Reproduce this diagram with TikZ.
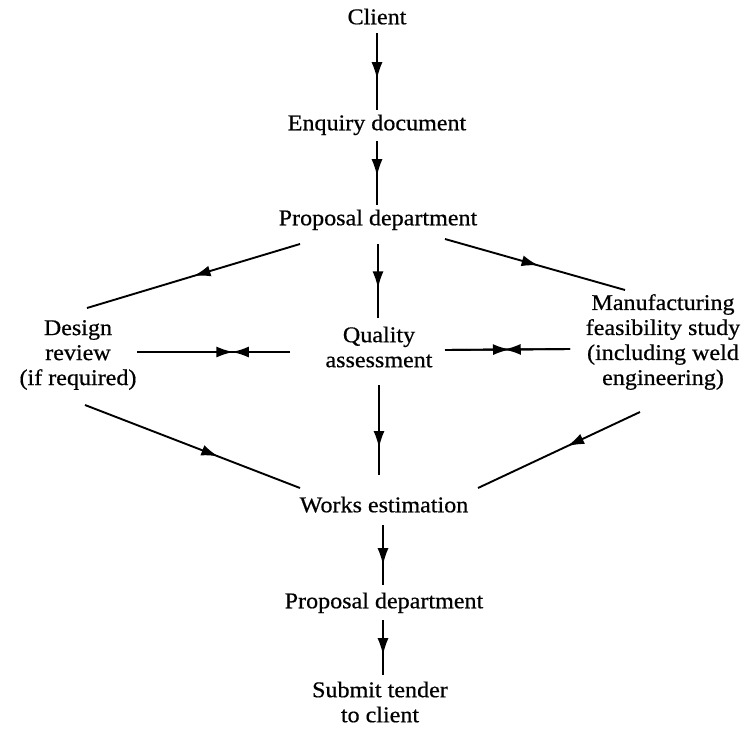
\documentclass[tikz,border=0pt]{standalone}
\usepackage{fontspec}
\setmainfont[FakeStretch=1.07,FakeBold=0.6]{Liberation Serif}
\usetikzlibrary{arrows.meta,decorations.markings}
\tikzset{
  lbl/.style={inner sep=0pt, align=center, font=\fontsize{22.5}{25}\selectfont},
  one/.style={lbl, text height=15pt, text depth=4.5pt},
  flow/.style={line width=1.9pt, postaction={decorate},
    decoration={markings, mark=at position #1 with {\arrow{Latex[length=17pt,width=11pt]}}}},
}
\begin{document}
\begin{tikzpicture}[x=1pt,y=-1pt]
\useasboundingbox (0,0) rectangle (744,731);
\node[one] (client) at (377,19) {Client};
\node[one] (enq) at (377,125) {Enquiry document};
\node[one] (pd1) at (378,220) {Proposal department};
\node[lbl] (dr) at (78,355) {Design\\review\\(if required)};
\node[lbl] (qa) at (379,347) {Quality\\assessment};
\node[lbl] (mfs) at (663,342) {Manufacturing\\feasibility study\\(including weld\\engineering)};
\node[one] (we) at (384,507) {Works estimation};
\node[one] (pd2) at (384,603) {Proposal department};
\node[lbl] (sub) at (380,702) {Submit tender\\to client};

\draw[flow=0.6] ([shift={(0,14)}]client.center) -- ([shift={(0,-15)}]enq.center);
\draw[flow=0.55] ([shift={(0,16)}]enq.center) -- ([shift={(-1,-15)}]pd1.center);
\draw[flow=0.5] ([shift={(-78,24)}]pd1.center) -- ([shift={(9,-47)}]dr.center);
\draw[flow=0.6] ([shift={(0,24)}]pd1.center) -- ([shift={(-1,-29)}]qa.center);
\draw[flow=0.52] ([shift={(67,19)}]pd1.center) -- ([shift={(-38,-52)}]mfs.center);
\draw[flow=0.63] ([shift={(59,-3)}]dr.center) -- ([shift={(-89,5)}]qa.center);
\draw[flow=0.38] ([shift={(-89,5)}]qa.center) -- ([shift={(59,-3)}]dr.center);
\draw[flow=0.52] ([shift={(66,3)}]qa.center) -- ([shift={(-93,7)}]mfs.center);
\draw[flow=0.53] ([shift={(-93,7)}]mfs.center) -- ([shift={(66,3)}]qa.center);
\draw[flow=0.62] ([shift={(7,50)}]dr.center) -- ([shift={(-84,-19)}]we.center);
\draw[flow=0.7] ([shift={(0,38)}]qa.center) -- ([shift={(-5,-32)}]we.center);
\draw[flow=0.45] ([shift={(-23,70)}]mfs.center) -- ([shift={(94,-19)}]we.center);
\draw[flow=0.67] ([shift={(-1,18)}]we.center) -- ([shift={(-1,-18)}]pd2.center);
\draw[flow=0.64] ([shift={(-1,17)}]pd2.center) -- ([shift={(3,-27)}]sub.center);
\end{tikzpicture}
\end{document}
